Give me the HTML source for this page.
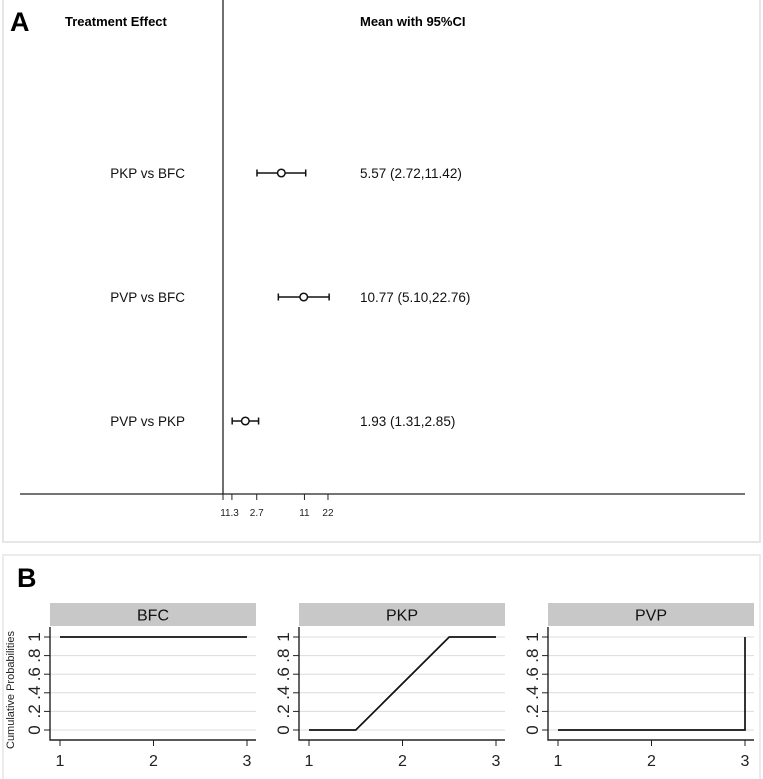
<!DOCTYPE html>
<html><head><meta charset="utf-8">
<style>
html,body{margin:0;padding:0;background:#fff;}
svg{display:block;font-family:"Liberation Sans",Arial,sans-serif;}
</style></head>
<body>
<svg id="chart" width="763" height="779" viewBox="0 0 763 779" xmlns="http://www.w3.org/2000/svg">
  <rect x="3" y="-2" width="757" height="544" fill="none" stroke="#e6e6e6" stroke-width="2"/>
  <rect x="3" y="555" width="757" height="230" fill="none" stroke="#ececec" stroke-width="2"/>
  <text x="10" y="31" font-size="27" font-weight="bold">A</text>
  <text x="65" y="26" font-size="13" font-weight="bold">Treatment Effect</text>
  <text x="360" y="26" font-size="13" font-weight="bold">Mean with 95%CI</text>
  <text x="17" y="587" font-size="27" font-weight="bold">B</text>
  <g id="forest"></g>
  <g id="cum"></g>
</svg>
<script>
const comparisons = ["PKP vs BFC","PVP vs BFC","PVP vs PKP"];
const means = [5.57, 10.77, 1.93];
const lowers = [2.72, 5.10, 1.31];
const uppers = [11.42, 22.76, 2.85];
const ciLabels = ["5.57 (2.72,11.42)","10.77 (5.10,22.76)","1.93 (1.31,2.85)"];
const xTicks = [1, 1.3, 2.7, 11, 22];
const xTickLabels = ["1","1.3","2.7","11","22"];

const treatments = ["BFC","PKP","PVP"];
const ranks = [1,2,3];
const cumX = [[1,3],[1,1.5,2.5,3],[1,3,3]];
const cumY = [[1,1],[0,0,1,1],[0,0,1]];
const yTicks = [0,0.2,0.4,0.6,0.8,1];
const yTickLabels = ["0",".2",".4",".6",".8","1"];

const NS="http://www.w3.org/2000/svg";
function mk(tag, attrs, parent, txt){
  const e=document.createElementNS(NS,tag);
  for(const k in attrs) e.setAttribute(k, attrs[k]);
  if(txt!==undefined) e.textContent=txt;
  parent.appendChild(e); return e;
}
const fx = v => 223 + Math.log10(v)*78.2;
const rowY = i => 173 + i*124;
const g = document.getElementById('forest');
let l = mk('line',{x1:223,y1:0,x2:223,y2:494,stroke:'#222','stroke-width':1.3},g);


l = mk('line',{x1:20,y1:494,x2:745,y2:494,stroke:'#222','stroke-width':1.3},g);


xTicks.forEach((t,i)=>{
  const x=fx(t);
  const tk=mk('line',{x1:x,y1:494,x2:x,y2:500,stroke:'#222','stroke-width':1},g);
  
  
  const tx=mk('text',{x:x,y:516,'font-size':10,'text-anchor':'middle',fill:'#222'},g,xTickLabels[i]);
  
  
});
comparisons.forEach((c,i)=>{
  const y=rowY(i);
  const lab=mk('text',{x:185,y:y+5,'font-size':13.5,'text-anchor':'end',fill:'#111'},g,c);
  
  
  const ci=mk('line',{x1:fx(lowers[i]),y1:y,x2:fx(uppers[i]),y2:y,stroke:'#111','stroke-width':1.6},g);
  
  
  [lowers[i],uppers[i]].forEach(v=>{
    const cap=mk('line',{x1:fx(v),y1:y-3.5,x2:fx(v),y2:y+3.5,stroke:'#111','stroke-width':1.5},g);
    
    
  });
  const p=mk('circle',{cx:fx(means[i]),cy:y,r:3.8,fill:'#fff',stroke:'#111','stroke-width':1.5},g);
  
  
  const t=mk('text',{x:360,y:y+5,'font-size':13.5,fill:'#111'},g,ciLabels[i]);
  
  
});
const cg=document.getElementById('cum');
const yl=mk('text',{x:0,y:0,'font-size':11,'text-anchor':'middle',fill:'#222',transform:'translate(14,690) rotate(-90)'},cg,'Cumulative Probabilities');


const lefts=[50,299,548];
treatments.forEach((tr,k)=>{
  const L=lefts[k], W=206;
  const px=v=>L+10+(v-1)/2*(W-19);
  const py=v=>730-v*93;
  const pg=mk('g',{},cg);
  
  
  const s=mk('rect',{x:L,y:603,width:W,height:23,fill:'#c8c8c8'},pg);
  
  
  const st=mk('text',{x:L+W/2,y:620.5,'font-size':16,'text-anchor':'middle',fill:'#111'},pg,tr);
  
  
  yTicks.forEach((v,i)=>{
    const gl=mk('line',{x1:L,y1:py(v),x2:L+W,y2:py(v),stroke:'#dcdcdc','stroke-width':1},pg);
    
    
    const tk=mk('line',{x1:L-6,y1:py(v),x2:L,y2:py(v),stroke:'#222'},pg);
    
    
    const tl=mk('text',{x:0,y:0,'font-size':17,'text-anchor':'middle',fill:'#222',transform:`translate(${L-10},${py(v)}) rotate(-90)`},pg,yTickLabels[i]);
    
    
  });
  const ax=mk('path',{d:`M${L},627 V740 H${L+W}`,fill:'none',stroke:'#222','stroke-width':1.4},pg);
  
  
  ranks.forEach(r=>{
    const tk=mk('line',{x1:px(r),y1:740,x2:px(r),y2:746,stroke:'#222'},pg);
    
    
    const tl=mk('text',{x:px(r),y:766,'font-size':16,'text-anchor':'middle',fill:'#222'},pg,String(r));
    
    
  });
  const d=cumX[k].map((x,i)=>(i?'L':'M')+px(x)+','+py(cumY[k][i])).join(' ');
  const ln=mk('path',{d:d,fill:'none',stroke:'#111','stroke-width':1.7},pg);
  
  
});
</script>
</body></html>
